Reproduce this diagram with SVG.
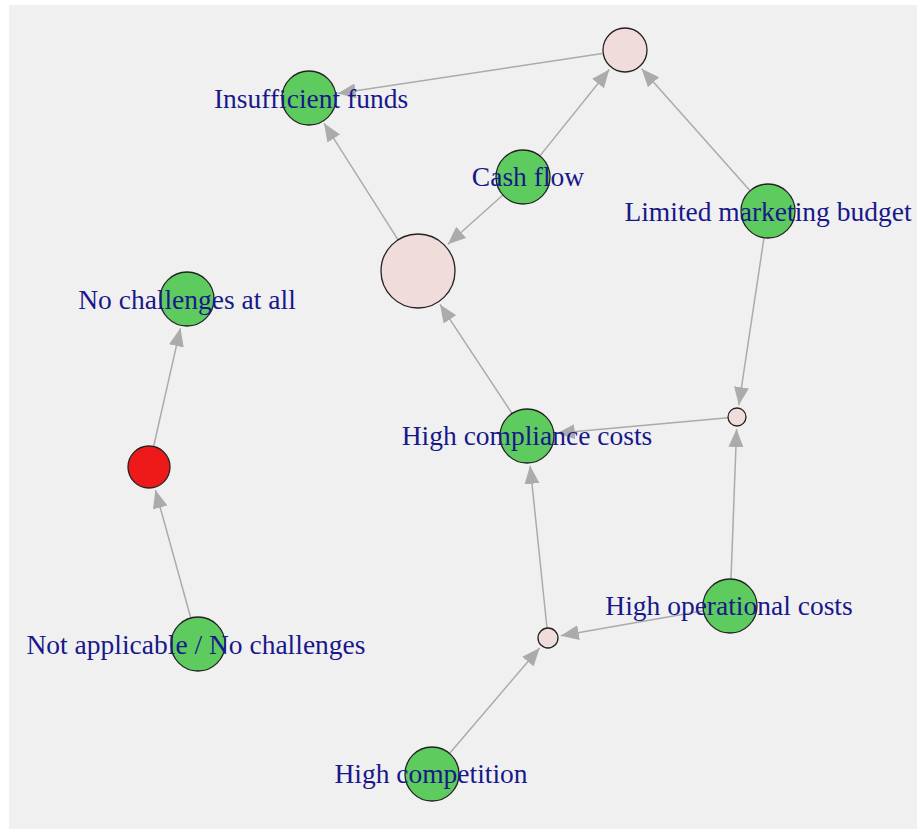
<svg xmlns="http://www.w3.org/2000/svg" width="917" height="829" viewBox="0 0 917 829">
  <style>
    .edge { stroke: #ababab; stroke-width: 1.5; fill: none; marker-end: url(#arrow); }
    .node { stroke: #222; stroke-width: 1.3; }
    .item { fill: #5ecb5e; }
    .hub { fill: #f1dcdc; }
    .alert { fill: #ee1a1a; }
    .label { font-family: "Liberation Serif", "Times New Roman", serif; font-size: 27.5px; fill: #18188a; text-anchor: middle; }
  </style>
  <defs>
    <marker id="arrow" markerUnits="userSpaceOnUse" markerWidth="19" markerHeight="16" refX="18" refY="7.5" orient="auto">
      <path d="M0,0 L18,7.5 L0,15 z" fill="#ababab"/>
    </marker>
  </defs>

  <rect x="0" y="0" width="917" height="829" fill="#ffffff"/>
  <rect x="9" y="5" width="908" height="824" fill="#f0f0f0"/>

  <g id="connectors">
    <line class="edge" x1="602.3" y1="53.4" x2="337.7" y2="93.5"/>
    <line class="edge" x1="539.9" y1="155.9" x2="609.3" y2="69.5"/>
    <line class="edge" x1="502.9" y1="195" x2="447.8" y2="244.3"/>
    <line class="edge" x1="750.1" y1="190.8" x2="641.6" y2="68.7"/>
    <line class="edge" x1="398.1" y1="239.8" x2="324.1" y2="123.3"/>
    <line class="edge" x1="764" y1="237.7" x2="738.8" y2="405.1"/>
    <line class="edge" x1="512.1" y1="413.5" x2="440" y2="304.4"/>
    <line class="edge" x1="728" y1="417.8" x2="556.9" y2="433.3"/>
    <line class="edge" x1="731" y1="579" x2="736.6" y2="429"/>
    <line class="edge" x1="703.4" y1="610.7" x2="560.8" y2="635.7"/>
    <line class="edge" x1="547" y1="628" x2="530.1" y2="465.8"/>
    <line class="edge" x1="449.5" y1="753.5" x2="539.6" y2="647.9"/>
    <line class="edge" x1="190.8" y1="618" x2="155.4" y2="490.1"/>
    <line class="edge" x1="153.6" y1="446.5" x2="180.4" y2="328.3"/>
  </g>

  <g id="hub-top"><circle class="node hub" cx="625" cy="50" r="22"/></g>
  <g id="hub-big"><circle class="node hub" cx="418" cy="271" r="37"/></g>
  <g id="hub-right"><circle class="node hub" cx="737" cy="417" r="9"/></g>
  <g id="hub-bottom"><circle class="node hub" cx="548" cy="638" r="10"/></g>
  <g id="red-node"><circle class="node alert" cx="149" cy="467" r="21"/></g>
  <g id="insufficient-funds"><circle class="node item" cx="309" cy="98" r="27"/></g>
  <g id="cash-flow"><circle class="node item" cx="523" cy="177" r="27"/></g>
  <g id="limited-marketing-budget"><circle class="node item" cx="768" cy="211" r="27"/></g>
  <g id="no-challenges-at-all"><circle class="node item" cx="187" cy="299" r="27"/></g>
  <g id="high-compliance-costs"><circle class="node item" cx="527" cy="436" r="27"/></g>
  <g id="high-operational-costs"><circle class="node item" cx="730" cy="606" r="27"/></g>
  <g id="not-applicable"><circle class="node item" cx="198" cy="644" r="27"/></g>
  <g id="high-competition"><circle class="node item" cx="432" cy="774" r="27"/></g>

  <g id="labels">
    <text class="label" x="311" y="108">Insufficient funds</text>
    <text class="label" x="528" y="186">Cash flow</text>
    <text class="label" x="768" y="221">Limited marketing budget</text>
    <text class="label" x="187" y="309">No challenges at all</text>
    <text class="label" x="527" y="445">High compliance costs</text>
    <text class="label" x="729" y="615">High operational costs</text>
    <text class="label" x="196" y="654">Not applicable / No challenges</text>
    <text class="label" x="431" y="783">High competition</text>
  </g>
</svg>
